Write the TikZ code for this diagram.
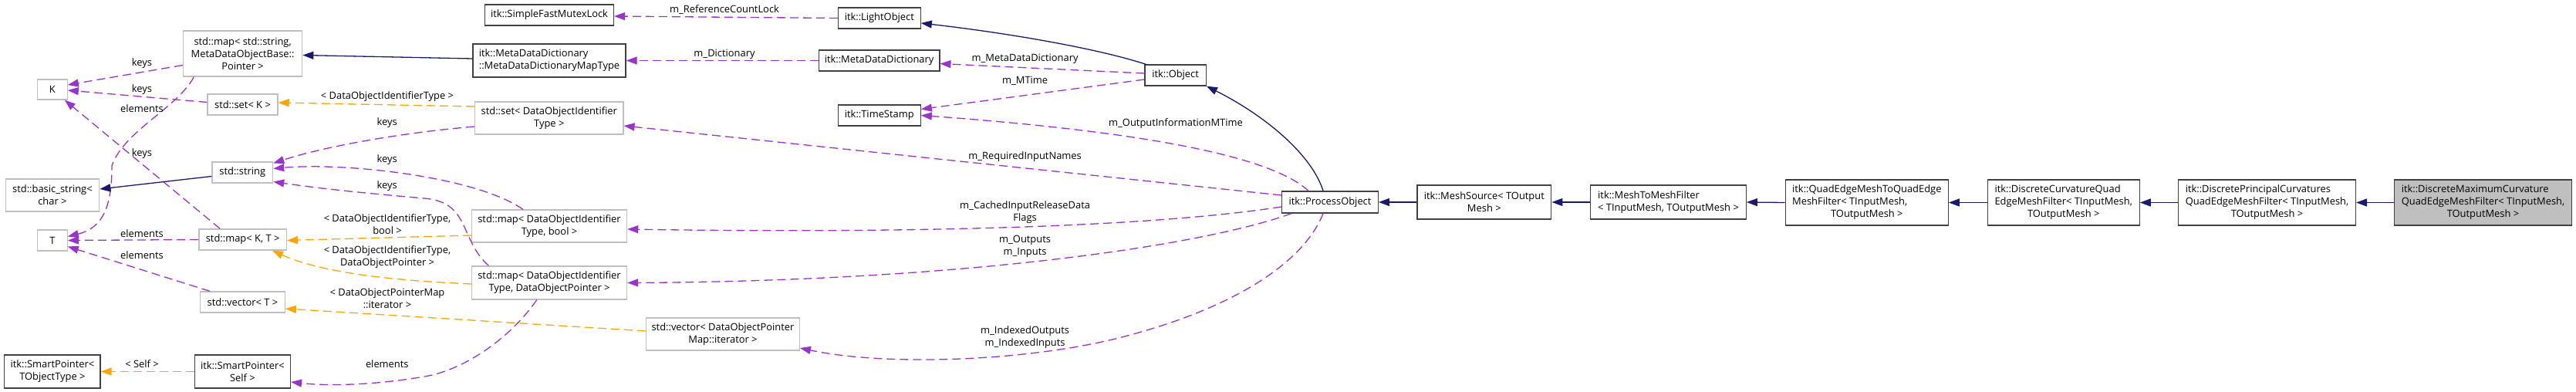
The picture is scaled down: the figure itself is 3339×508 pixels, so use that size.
\documentclass[tikz,border=0pt]{standalone}
\usepackage{fontspec}
\setmainfont{Open Sans}
\usetikzlibrary{arrows.meta,calc}
\definecolor{navy}{HTML}{191970}
\definecolor{purp}{HTML}{9A32CD}
\definecolor{orng}{HTML}{FFA500}
\definecolor{lightbd}{HTML}{BFBFBF}
\definecolor{darkbd}{HTML}{404040}
\definecolor{grayfill}{HTML}{BFBFBF}
\newcommand{\lastc}[1]{\multicolumn{1}{@{}c@{}}{#1}}
\begin{document}
\begin{tikzpicture}[x=1pt,y=-1pt,
  every node/.style={font=\fontsize{12.9}{16}\selectfont, inner sep=0pt},
  box/.style={draw=darkbd, line width=1.3pt, fill=white, align=center},
  ubox/.style={box, draw=lightbd},
  cbox/.style={box, fill=grayfill},
  lbl/.style={align=center},
  use/.style={draw=purp, line width=1.3pt, dash pattern=on 11pt off 6pt, -{Triangle[length=14pt,width=10pt]}},
  tmpl/.style={use, draw=orng},
  inh/.style={draw=navy, line width=1.3pt, -{Triangle[length=14pt,width=10pt]}},
]
\fill[white] (0,0) rectangle (3339,508);
\useasboundingbox (0,0) rectangle (3339,508);

% column 1
\node[ubox, minimum width=38.5pt, minimum height=26pt] (K) at (67.9,116) {K};
\node[ubox, minimum width=121.5pt, minimum height=42pt] (basic) at (67.9,253) {std::basic\_string<\\char >};
\node[ubox, minimum width=38.5pt, minimum height=27pt] (T) at (67.9,311.5) {T};
\node[box, minimum width=124.3pt, minimum height=43pt] (SPT) at (67.9,481.5) {itk::SmartPointer<\\TObjectType >};
% column 2
\node[ubox, minimum width=154.3pt, minimum height=59pt] (mapMDOB) at (314.6,69.5) {std::map< std::string,\\ MetaDataObjectBase::\\Pointer >};
\node[ubox, minimum width=91.1pt, minimum height=27pt] (setK) at (314.5,135.5) {std::set< K >};
\node[ubox, minimum width=78.6pt, minimum height=27pt] (string) at (314.3,223.5) {std::string};
\node[ubox, minimum width=113.5pt, minimum height=27pt] (mapKT) at (314.6,310.5) {std::map< K, T >};
\node[ubox, minimum width=109.7pt, minimum height=27pt] (vecT) at (314.5,391.5) {std::vector< T >};
\node[box, minimum width=123.9pt, minimum height=43pt] (SPS) at (314.5,481.5) {itk::SmartPointer<\\Self >};
% column 3
\node[box, minimum width=166.8pt, minimum height=27pt] (mutex) at (712,19.5) {itk::SimpleFastMutexLock};
\node[box, minimum width=198.1pt, minimum height=43pt] (mapType) at (712,78.5) {\begin{tabular}{@{}l@{}}itk::MetaDataDictionary\\::MetaDataDictionaryMapType\end{tabular}};
\node[ubox, minimum width=192.2pt, minimum height=42pt] (setDOIT) at (711.8,153) {std::set< DataObjectIdentifier\\Type >};
\node[ubox, minimum width=201.1pt, minimum height=42pt] (mapBool) at (712,293) {std::map< DataObjectIdentifier\\Type, bool >};
\node[ubox, minimum width=201.1pt, minimum height=43pt] (mapPtr) at (712,366.5) {std::map< DataObjectIdentifier\\Type, DataObjectPointer >};
\node[ubox, minimum width=198.5pt, minimum height=42pt] (vecIter) at (937,433) {std::vector< DataObjectPointer\\Map::iterator >};
% column 4
\node[box, minimum width=106.8pt, minimum height=27pt] (light) at (1139.8,23.5) {itk::LightObject};
\node[box, minimum width=156.5pt, minimum height=27pt] (mdd) at (1139.6,78.5) {itk::MetaDataDictionary};
\node[box, minimum width=106.8pt, minimum height=27pt] (ts) at (1139.8,149.5) {itk::TimeStamp};
\node[box, minimum width=79.3pt, minimum height=27pt] (obj) at (1523.6,97.5) {itk::Object};
% chain
\node[box, minimum width=124.6pt, minimum height=28pt] (po) at (1724,262) {itk::ProcessObject};
\node[box, minimum width=173.9pt, minimum height=44pt] (ms) at (1923.8,262) {itk::MeshSource< TOutput\\Mesh >};
\node[box, minimum width=201.5pt, minimum height=44pt] (m2m) at (2162.5,262) {\begin{tabular}{@{}l@{}}itk::MeshToMeshFilter\\< TInputMesh, TOutputMesh >\end{tabular}};
\node[box, minimum width=210.9pt, minimum height=59pt] (qe) at (2419.8,262.5) {\begin{tabular}{@{}l@{}}itk::QuadEdgeMeshToQuadEdge\\MeshFilter< TInputMesh,\\\lastc{TOutputMesh >}\end{tabular}};
\node[box, minimum width=196.9pt, minimum height=59pt] (dcq) at (2674.7,262.5) {\begin{tabular}{@{}l@{}}itk::DiscreteCurvatureQuad\\EdgeMeshFilter< TInputMesh,\\\lastc{TOutputMesh >}\end{tabular}};
\node[box, minimum width=229.7pt, minimum height=59pt] (dpc) at (2938.5,262.5) {\begin{tabular}{@{}l@{}}itk::DiscretePrincipalCurvatures\\QuadEdgeMeshFilter< TInputMesh,\\\lastc{TOutputMesh >}\end{tabular}};
\node[cbox, minimum width=230pt, minimum height=59pt] (dmc) at (3218.5,262.5) {\begin{tabular}{@{}l@{}}itk::DiscreteMaximumCurvature\\QuadEdgeMeshFilter< TInputMesh,\\\lastc{TOutputMesh >}\end{tabular}};

% edges
\draw[use] ($(mapMDOB.west)+(0,15)$) -- ($(K.east)+(0,-6)$);
\draw[use] ($(setK.west)+(0,-3)$) -- ($(K.east)+(0,1)$);
\draw[use] ($(mapMDOB.south west)+(14.5,0)$) .. controls (230,140) and (160,170) .. (145,215) .. controls (145,265) and (135,295) .. ($(T.east)+(0,-5)$);
\draw[use] ($(mapKT.north west)+(28,0)$) -- ($(K.south east)+(-4,0)$);
\draw[use] (mapKT.west) -- (T.east);
\draw[use] ($(vecT.north west)+(13,0)$) -- ($(T.east)+(0,8)$);
\draw[inh] ($(string.west)+(0,5)$) -- ($(basic.east)+(0,-8)$);
\draw[use] ($(setDOIT.west)+(0,11)$) .. controls (520,172) and (420,190) .. ($(string.east)+(0,-12)$);
\draw[use] ($(mapBool.north west)+(67,0)$) .. controls (620,230) and (450,210) .. ($(string.east)+(0,-5)$);
\draw[use] ($(mapPtr.north west)+(22.6,0)$) .. controls (595,310) and (610,262) .. (550,257) .. controls (470,250) and (420,245) .. ($(string.east)+(0,12)$);
\draw[tmpl] ($(mapBool.west)+(0,12)$) -- ($(mapKT.east)+(0,1)$);
\draw[tmpl] ($(mapPtr.west)+(0,1.5)$) .. controls (520,364) and (420,355) .. ($(mapKT.south east)+(-19,0)$);
\draw[tmpl] ($(vecIter.west)+(0,-4)$) -- ($(vecT.east)+(0,8.5)$);
\draw[tmpl] ($(setDOIT.west)+(0,-15)$) -- ($(setK.east)+(0,-2.5)$);
\draw[tmpl] (SPS.west) -- (SPT.east);
\draw[use] ($(mapPtr.south west)+(85,0)$) .. controls (660,440) and (600,480) .. (550,488) .. controls (480,500) and (420,500) .. ($(SPS.east)+(0,13.5)$);
\draw[inh] ($(mapType.west)+(0,-2.5)$) -- ($(mapMDOB.east)+(0,2)$);
\draw[use] (light.west) -- ($(mutex.east)+(0,1.5)$);
\draw[use] (mdd.west) -- (mapType.east);
\draw[inh] ($(obj.north west)+(2,0)$) .. controls (1420,62) and (1300,42) .. ($(light.east)+(0,6.5)$);
\draw[use] ($(obj.west)+(0,-2.5)$) -- ($(mdd.east)+(0,4)$);
\draw[use] ($(obj.west)+(0,5.5)$) -- ($(ts.east)+(0,-8)$);
\draw[inh] ($(po.north west)+(54,0)$) .. controls (1700,200) and (1640,150) .. (obj.south east);
\draw[use] ($(po.north west)+(35,0)$) .. controls (1650,205) and (1500,172) .. (ts.east);
\draw[use] ($(po.west)+(0,-9)$) -- ($(setDOIT.east)+(0,10)$);
\draw[use] ($(po.west)+(0,6)$) .. controls (1500,293) and (1200,303) .. ($(mapBool.east)+(0,4)$);
\draw[use] ($(po.south west)+(13,0)$) .. controls (1560,318) and (1250,364) .. (mapPtr.east);
\draw[use] ($(po.south west)+(54,0)$) .. controls (1690,340) and (1600,400) .. (1450,438) .. controls (1330,468) and (1150,475) .. ($(vecIter.east)+(0,18)$);
\draw[inh] (ms.west) -- (po.east);
\draw[inh] (m2m.west) -- (ms.east);
\draw[inh] (qe.west) -- (m2m.east);
\draw[inh] (dcq.west) -- (qe.east);
\draw[inh] (dpc.west) -- (dcq.east);
\draw[inh] (dmc.west) -- (dpc.east);

% labels
\node[lbl] (l1) at (184,82) {keys};
\node[lbl] (l2) at (184,116) {keys};
\node[lbl] (l3) at (184,141) {elements};
\node[lbl] (l4) at (184,199.5) {keys};
\node[lbl] (l5) at (184,302.7) {elements};
\node[lbl] (l6) at (184,331) {elements};
\node[lbl] (l8) at (501.8,159) {keys};
\node[lbl] (l9) at (501.8,207.3) {keys};
\node[lbl] (l10) at (501.8,240.7) {keys};
\node[lbl] (l11) at (502,291) {< DataObjectIdentifierType,\\bool >};
\node[lbl] (l12) at (502,333) {< DataObjectIdentifierType,\\DataObjectPointer >};
\node[lbl] (l13) at (502,387) {< DataObjectPointerMap\\::iterator >};
\node[lbl] (l14) at (502,125) {< DataObjectIdentifierType >};
\node[lbl] (l15) at (184,471.7) {< Self >};
\node[lbl] (l16) at (501.8,471.7) {elements};
\node[lbl] (l18) at (939,12.7) {m\_ReferenceCountLock};
\node[lbl] (l19) at (939,70.7) {m\_Dictionary};
\node[lbl] (l21) at (1328.6,76) {m\_MetaDataDictionary};
\node[lbl] (l22) at (1328.6,104.7) {m\_MTime};
\node[lbl] (l24) at (1524,160) {m\_OutputInformationMTime};
\node[lbl] (l25) at (1328.6,203.3) {m\_RequiredInputNames};
\node[lbl] (l26) at (1328.6,275.3) {m\_CachedInputReleaseData\\Flags};
\node[lbl] (l27) at (1328.6,319.7) {m\_Outputs\\m\_Inputs};
\node[lbl] (l28) at (1328.6,436.7) {m\_IndexedOutputs\\m\_IndexedInputs};
\end{tikzpicture}
\end{document}
